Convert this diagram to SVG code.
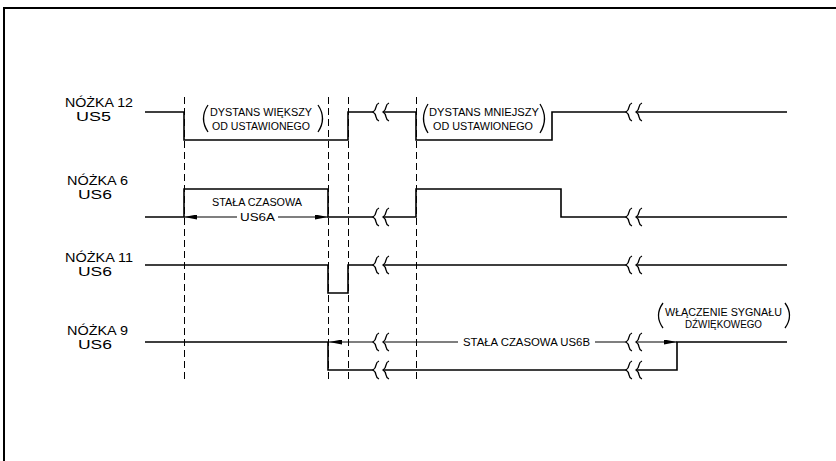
<svg xmlns="http://www.w3.org/2000/svg" width="836" height="461" viewBox="0 0 836 461">
<style>
.bg{fill:#ffffff}
.frame{fill:none;stroke:#000;stroke-width:2}
.sig{fill:none;stroke:#000;stroke-width:1.6;stroke-linejoin:miter}
.dim{fill:none;stroke:#000;stroke-width:1.2}
.dash{fill:none;stroke:#000;stroke-width:1;stroke-dasharray:7 4}
.brk{fill:none;stroke:#000;stroke-width:1.3}
.par{fill:none;stroke:#000;stroke-width:1.3}
.lbl{font-family:"Liberation Sans",Arial,sans-serif;font-size:12.5px;fill:#000}
.sm{font-family:"Liberation Sans",Arial,sans-serif;font-size:10px;fill:#000}
</style>
<defs>
<marker id="arr" viewBox="0 0 13 5" refX="13" refY="2.5" markerWidth="13" markerHeight="5" markerUnits="userSpaceOnUse" orient="auto">
<path d="M0,0 L13,2.5 L0,5 z" fill="#000"/>
</marker>
<g id="brk">
<path class="brk" d="M3,-9 C-2,-7 2,-3 -3,0 C2,3 -2,7 3,9"/>
<path class="brk" d="M13,-9 C8,-7 12,-3 7,0 C12,3 8,7 13,9"/>
</g>
</defs>
<rect class="bg" x="0" y="0" width="836" height="461"/>
<g id="frame">
<path class="frame" d="M4,461 V8 H836"/>
</g>
<g id="guides">
<line class="dash" x1="184.5" y1="97" x2="184.5" y2="383"/>
<line class="dash" x1="328.5" y1="97" x2="328.5" y2="383"/>
<line class="dash" x1="348.5" y1="97" x2="348.5" y2="383"/>
<line class="dash" x1="416.5" y1="97" x2="416.5" y2="383"/>
</g>
<g id="labels">
<g id="label-n12">
<text class="lbl" x="65" y="107" textLength="68" lengthAdjust="spacingAndGlyphs">NÓŻKA 12</text>
<text class="lbl" x="76" y="121" textLength="35" lengthAdjust="spacingAndGlyphs">US5</text>
</g>
<g id="label-n6">
<text class="lbl" x="67" y="185" textLength="61" lengthAdjust="spacingAndGlyphs">NÓŻKA 6</text>
<text class="lbl" x="78" y="199" textLength="34" lengthAdjust="spacingAndGlyphs">US6</text>
</g>
<g id="label-n11">
<text class="lbl" x="65" y="261.5" textLength="68" lengthAdjust="spacingAndGlyphs">NÓŻKA 11</text>
<text class="lbl" x="78" y="275.5" textLength="34" lengthAdjust="spacingAndGlyphs">US6</text>
</g>
<g id="label-n9">
<text class="lbl" x="67" y="335" textLength="61" lengthAdjust="spacingAndGlyphs">NÓŻKA 9</text>
<text class="lbl" x="78" y="349" textLength="34" lengthAdjust="spacingAndGlyphs">US6</text>
</g>
</g>
<g id="signals">
<g id="sig-n12">
<path class="sig" d="M145,112 H184 V140 H348 V112 H373 M383,112 H416 V140 H552 V112 H626 M636,112 H787"/>
<use href="#brk" x="376" y="112"/>
<use href="#brk" x="629" y="112"/>
</g>
<g id="sig-n6">
<path class="sig" d="M145,217 H184 V189 H328 V217 H373 M383,217 H416 V189 H561 V217 H626 M636,217 H787"/>
<use href="#brk" x="376" y="217"/>
<use href="#brk" x="629" y="217"/>
</g>
<g id="sig-n11">
<path class="sig" d="M145,265 H328 V293 H348 V265 H373 M383,265 H626 M636,265 H787"/>
<use href="#brk" x="376" y="265"/>
<use href="#brk" x="629" y="265"/>
</g>
<g id="sig-n9">
<path class="sig" d="M145,342 H328 V370 H373 M383,370 H626 M636,370 H677 V342 H787"/>
<use href="#brk" x="376" y="370"/>
<use href="#brk" x="629" y="370"/>
</g>
</g>
<g id="connectors">
<g id="dim-us6a">
<path class="dim" d="M237,217 H184" marker-end="url(#arr)"/>
<path class="dim" d="M278,217 H328" marker-end="url(#arr)"/>
<text class="sm" x="257" y="206" text-anchor="middle" textLength="90" lengthAdjust="spacingAndGlyphs">STAŁA CZASOWA</text>
<text class="sm" x="257.5" y="220.5" text-anchor="middle" textLength="35" lengthAdjust="spacingAndGlyphs">US6A</text>
</g>
<g id="dim-us6b">
<path class="dim" d="M373,342 H329" marker-end="url(#arr)"/>
<path class="dim" d="M383,342 H458 M595,342 H626"/>
<path class="dim" d="M636,342 H677" marker-end="url(#arr)"/>
<use href="#brk" x="376" y="342"/>
<use href="#brk" x="629" y="342"/>
<text class="sm" x="526.5" y="345.5" text-anchor="middle" textLength="127" lengthAdjust="spacingAndGlyphs">STAŁA CZASOWA US6B</text>
</g>
</g>
<g id="note-wiekszy">
<path class="par" d="M208,105 Q199,118.5 208,132"/>
<path class="par" d="M318,105 Q327,118.5 318,132"/>
<text class="sm" x="261" y="116" text-anchor="middle" textLength="102" lengthAdjust="spacingAndGlyphs">DYSTANS WIĘKSZY</text>
<text class="sm" x="261" y="130" text-anchor="middle" textLength="98" lengthAdjust="spacingAndGlyphs">OD USTAWIONEGO</text>
</g>
<g id="note-mniejszy">
<path class="par" d="M428,104 Q419,118.5 428,133"/>
<path class="par" d="M540,104 Q549,118.5 540,133"/>
<text class="sm" x="484" y="116" text-anchor="middle" textLength="110" lengthAdjust="spacingAndGlyphs">DYSTANS MNIEJSZY</text>
<text class="sm" x="483" y="130" text-anchor="middle" textLength="100" lengthAdjust="spacingAndGlyphs">OD USTAWIONEGO</text>
</g>
<g id="note-sygnal">
<path class="par" d="M663,303 Q654,315.5 663,328"/>
<path class="par" d="M785,303 Q794,315.5 785,328"/>
<text class="sm" x="723.5" y="315.5" text-anchor="middle" textLength="117" lengthAdjust="spacingAndGlyphs">WŁĄCZENIE SYGNAŁU</text>
<text class="sm" x="723.5" y="327.5" text-anchor="middle" textLength="77" lengthAdjust="spacingAndGlyphs">DŹWIĘKOWEGO</text>
</g>
</svg>
